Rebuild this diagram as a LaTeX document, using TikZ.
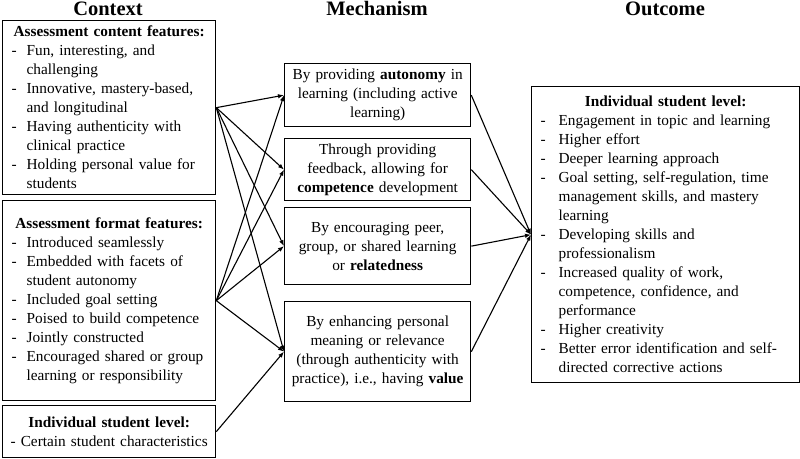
\documentclass[tikz,border=0pt]{standalone}
\usepackage{fontspec}
\setmainfont{Liberation Serif}
\usetikzlibrary{arrows.meta}

\newcommand{\itm}[2][15pt]{\noindent\hangindent=#1\hangafter=1\makebox[#1][l]{-}#2\par}

\begin{document}
\begin{tikzpicture}[x=1pt, y=1pt,
  box/.style={draw, line width=1.3pt, inner xsep=9pt, inner ysep=2pt, anchor=north west,
    font=\fontsize{15.3}{19}\selectfont},
  mech/.style={box, inner xsep=4pt, text width=178pt, align=center},
  head/.style={anchor=base, font=\fontsize{20.5}{24}\selectfont\bfseries},
  link/.style={line width=1.1pt, -{Latex[length=6pt,width=4.5pt]}}]
\useasboundingbox (0,0) rectangle (800,-458);

\node[head] (hctx) at (108,-15.5) {Context};
\node[head] (hmech) at (377,-15.5) {Mechanism};
\node[head] (hout) at (665,-15.5) {Outcome};

\node[box, text width=195pt, minimum height=174pt] (cont) at (2,-20) {%
{\centering\bfseries Assessment content features:\par}
\itm{Fun, interesting, and\newline challenging}
\itm{Innovative, mastery-based,\newline and longitudinal}
\itm{Having authenticity with\newline clinical practice}
\itm{Holding personal value for\newline students}};

\node[box, text width=195pt, minimum height=200pt] (form) at (2,-200) {%
{\centering\bfseries Assessment format features:\par}
\itm{Introduced seamlessly}
\itm{Embedded with facets of\newline student autonomy}
\itm{Included goal setting}
\itm{Poised to build competence}
\itm{Jointly constructed}
\itm{Encouraged shared or group\newline learning or responsibility}};

\node[box, inner xsep=3pt, text width=207pt, minimum height=52pt, align=center] (indiv) at (2,-405)
  {\textbf{Individual student level:}\\- Certain student characteristics};

\node[mech, minimum height=63pt] (auto) at (284,-63)
  {By providing \textbf{autonomy} in\\learning (including active\\learning)};
\node[mech, minimum height=62pt] (comp) at (284,-138)
  {Through providing\\feedback, allowing for\\\textbf{competence} development};
\node[mech, minimum height=77pt] (rel) at (284,-207)
  {By encouraging peer,\\group, or shared learning\\or \textbf{relatedness}};
\node[mech, minimum height=100pt] (val) at (284,-301)
  {By enhancing personal\\meaning or relevance\\(through authenticity with\\practice), i.e., having \textbf{value}};

\node[box, text width=250pt, minimum height=296pt] (out) at (531,-86) {%
{\centering\bfseries Individual student level:\par}
\itm[18pt]{Engagement in topic and learning}
\itm[18pt]{Higher effort}
\itm[18pt]{Deeper learning approach}
\itm[18pt]{Goal setting, self-regulation, time\newline management skills, and mastery\newline learning}
\itm[18pt]{Developing skills and\newline professionalism}
\itm[18pt]{Increased quality of work,\newline competence, confidence, and\newline performance}
\itm[18pt]{Higher creativity}
\itm[18pt]{Better error identification and self-\newline directed corrective actions}};

\draw[link] (cont.east) -- (auto.west);
\draw[link] (cont.east) -- (comp.west);
\draw[link] (cont.east) -- (rel.west);
\draw[link] (cont.east) -- (val.west);
\draw[link] (form.east) -- (auto.west);
\draw[link] (form.east) -- (comp.west);
\draw[link] (form.east) -- (rel.west);
\draw[link] (form.east) -- (val.west);
\draw[link] (indiv.east) -- (val.west);
\draw[link] (auto.east) -- (out.west);
\draw[link] (comp.east) -- (out.west);
\draw[link] (rel.east) -- (out.west);
\draw[link] (val.east) -- (out.west);
\end{tikzpicture}
\end{document}
